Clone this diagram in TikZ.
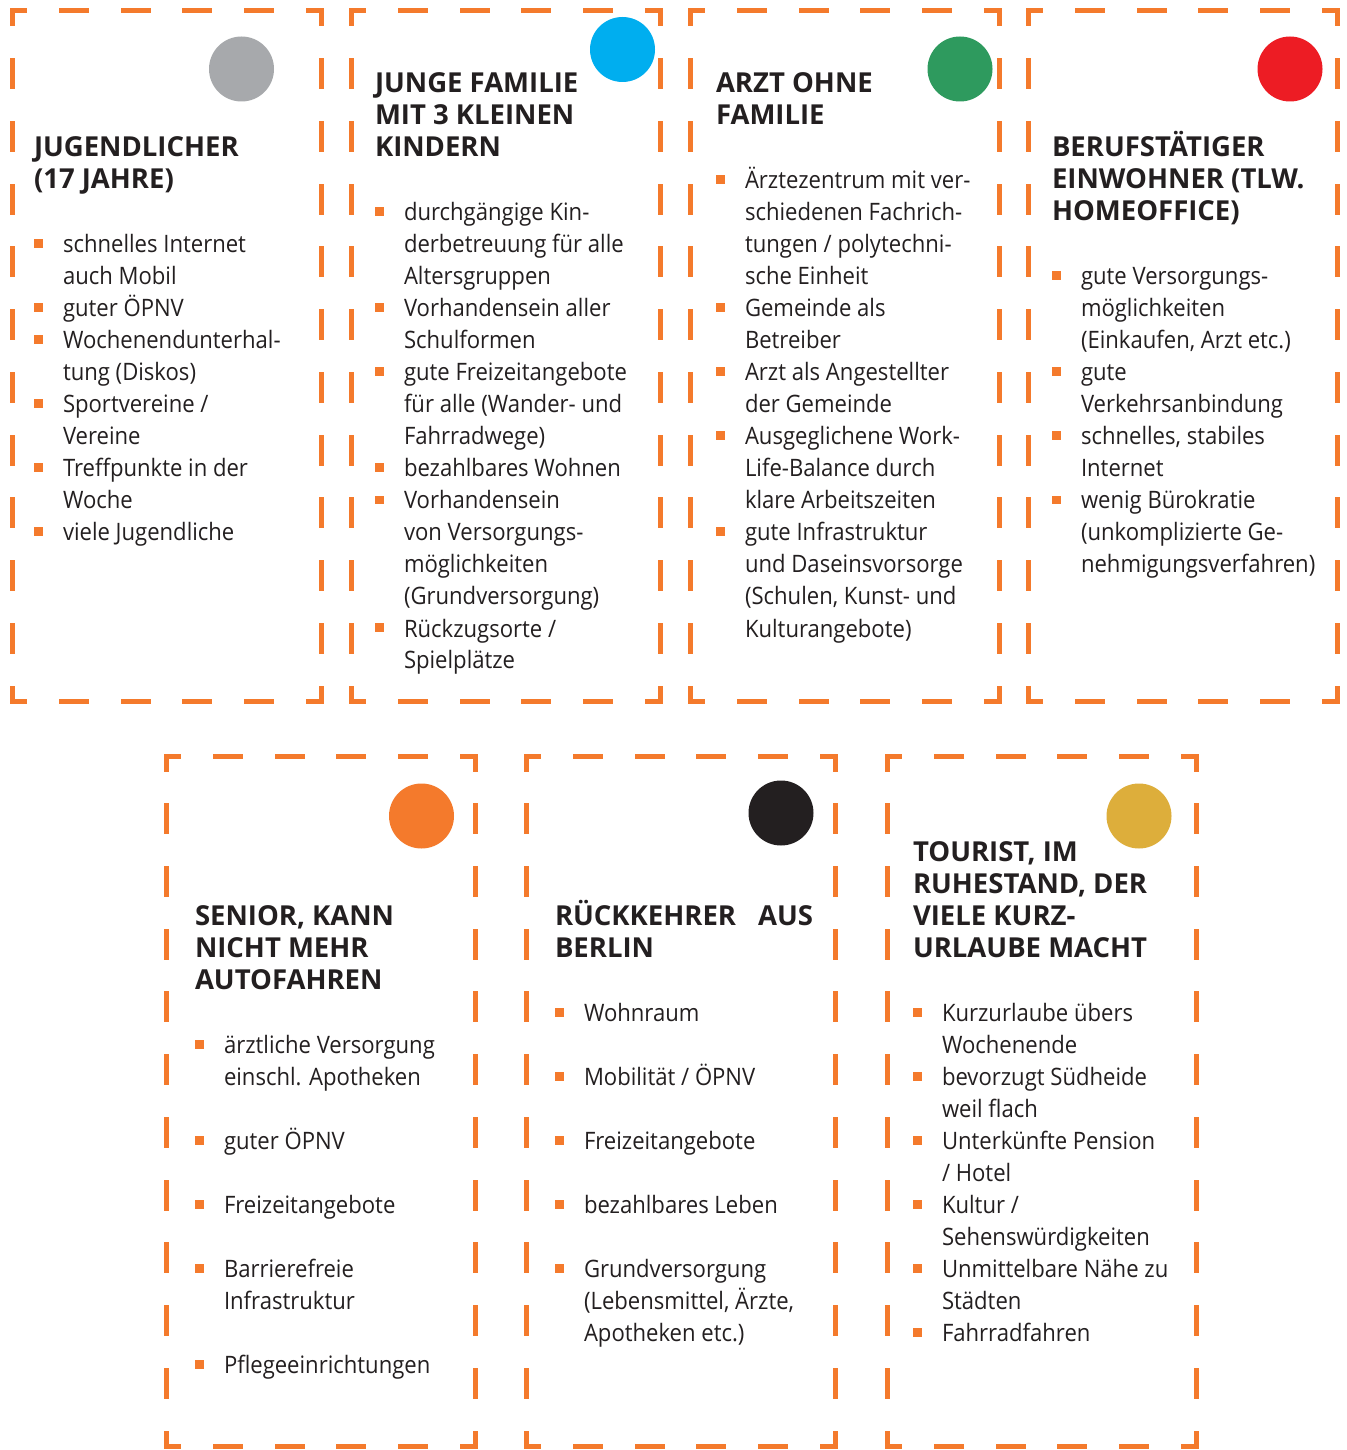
\documentclass[tikz,border=0pt]{standalone}
\usepackage{fontspec}
\setmainfont{Open Sans}[FakeStretch=0.92]
\newfontfamily\ttlfamily{Open Sans}
\definecolor{ink}{HTML}{231F20}
\definecolor{dorange}{HTML}{F47A2C}
\definecolor{cgray}{HTML}{A7A9AC}
\definecolor{cblue}{HTML}{00AEEF}
\definecolor{cgreen}{HTML}{2E9A5E}
\definecolor{cred}{HTML}{ED1C24}
\definecolor{corange}{HTML}{F47A2C}
\definecolor{cblack}{HTML}{231F20}
\definecolor{cgold}{HTML}{DDAE3B}
\newcommand\boxttl[1]{\hbox{\color{ink}\ttlfamily\bfseries\fontsize{27.5}{32}\selectfont #1}}
\newcommand\boxitm[1]{\hbox{\hbox to 29pt{\color{dorange}\raisebox{4.5pt}{\rule{9pt}{9pt}}\hss}\color{ink}#1}}
\newcommand\boxcnt[1]{\hbox{\hskip29pt\color{ink}#1}}
\newcommand\boxgap{\hbox{}}
\newcommand\boxlines[1]{\vtop{\fontsize{24}{32}\selectfont\baselineskip=32pt\lineskiplimit=-100pt\lineskip=0pt #1}}
\tikzset{
  hside/.style={line width=5pt, line cap=rect, draw=dorange, dash pattern=on 25pt off 36.8pt, dash phase=12.5pt},
  vside/.style={line width=5pt, line cap=rect, draw=dorange, dash pattern=on 26pt off 36.727pt, dash phase=13pt},
  txt/.style={anchor=base west, inner sep=0pt, outer sep=0pt},
  dot/.style={circle, inner sep=0pt, minimum size=65pt, fill=#1}
}
\newcommand\dashframe[4]{%
  \draw[hside] (#1,#2) -- (#3,#2);
  \draw[hside] (#1,#4) -- (#3,#4);
  \draw[vside] (#1,#2) -- (#1,#4);
  \draw[vside] (#3,#2) -- (#3,#4);
}
\begin{document}
\begin{tikzpicture}[x=1pt,y=-1pt]
\fill[white] (0,0) rectangle (1346,1450);
\useasboundingbox (0,0) rectangle (1346,1450);
% frames
\dashframe{12}{11}{321}{701}
\dashframe{351}{11}{660}{701}
\dashframe{690}{11}{999}{701}
\dashframe{1028}{11}{1337}{701}
\dashframe{166}{756}{475}{1446}
\dashframe{526}{756}{835}{1446}
\dashframe{887}{756}{1196}{1446}
% dots
\node[dot=cgray] (d1) at (241.5,69) {};
\node[dot=cblue] (d2) at (622.5,49.5) {};
\node[dot=cgreen] (d3) at (960,69) {};
\node[dot=cred] (d4) at (1290,69) {};
\node[dot=corange] (d5) at (421.5,816) {};
\node[dot=cblack] (d6) at (781,813) {};
\node[dot=cgold] (d7) at (1139,816) {};
% texts
\node[txt] (t1) at (34,157) {\boxlines{%
  \boxttl{JUGENDLICHER}
  \boxttl{(17 JAHRE)}
  \boxgap
  \boxitm{schnelles Internet}
  \boxcnt{auch Mobil}
  \boxitm{guter ÖPNV}
  \boxitm{Wochenendunterhal-}
  \boxcnt{tung (Diskos)}
  \boxitm{Sportvereine /}
  \boxcnt{Vereine}
  \boxitm{Treffpunkte in der}
  \boxcnt{Woche}
  \boxitm{viele Jugendliche}}};
\node[txt] (t2) at (375,93) {\boxlines{%
  \boxttl{JUNGE FAMILIE}
  \boxttl{MIT 3 KLEINEN}
  \boxttl{KINDERN}
  \boxgap
  \boxitm{durchgängige Kin-}
  \boxcnt{derbetreuung für alle}
  \boxcnt{Altersgruppen}
  \boxitm{Vorhandensein aller}
  \boxcnt{Schulformen}
  \boxitm{gute Freizeitangebote}
  \boxcnt{für alle (Wander- und}
  \boxcnt{Fahrradwege)}
  \boxitm{bezahlbares Wohnen}
  \boxitm{Vorhandensein}
  \boxcnt{von Versorgungs-}
  \boxcnt{möglichkeiten}
  \boxcnt{(Grundversorgung)}
  \boxitm{Rückzugsorte /}
  \boxcnt{Spielplätze}}};
\node[txt] (t3) at (716,93) {\boxlines{%
  \boxttl{ARZT OHNE}
  \boxttl{FAMILIE}
  \boxgap
  \boxitm{Ärztezentrum mit ver-}
  \boxcnt{schiedenen Fachrich-}
  \boxcnt{tungen / polytechni-}
  \boxcnt{sche Einheit}
  \boxitm{Gemeinde als}
  \boxcnt{Betreiber}
  \boxitm{Arzt als Angestellter}
  \boxcnt{der Gemeinde}
  \boxitm{Ausgeglichene Work-}
  \boxcnt{Life-Balance durch}
  \boxcnt{klare Arbeitszeiten}
  \boxitm{gute Infrastruktur}
  \boxcnt{und Daseinsvorsorge}
  \boxcnt{(Schulen, Kunst- und}
  \boxcnt{Kulturangebote)}}};
\node[txt] (t4) at (1052,157) {\boxlines{%
  \boxttl{BERUFSTÄTIGER}
  \boxttl{EINWOHNER (TLW.}
  \boxttl{HOMEOFFICE)}
  \boxgap
  \boxitm{gute Versorgungs-}
  \boxcnt{möglichkeiten}
  \boxcnt{(Einkaufen, Arzt etc.)}
  \boxitm{gute}
  \boxcnt{Verkehrsanbindung}
  \boxitm{schnelles, stabiles}
  \boxcnt{Internet}
  \boxitm{wenig Bürokratie}
  \boxcnt{(unkomplizierte Ge-}
  \boxcnt{nehmigungsverfahren)}}};
\node[txt] (t5) at (195,925) {\boxlines{%
  \boxttl{SENIOR, KANN}
  \boxttl{NICHT MEHR}
  \boxttl{AUTOFAHREN}
  \boxgap
  \boxitm{ärztliche Versorgung}
  \boxcnt{einschl. Apotheken}
  \boxgap
  \boxitm{guter ÖPNV}
  \boxgap
  \boxitm{Freizeitangebote}
  \boxgap
  \boxitm{Barrierefreie}
  \boxcnt{Infrastruktur}
  \boxgap
  \boxitm{Pflegeeinrichtungen}}};
\node[txt] (t6) at (555,925) {\boxlines{%
  \boxttl{\hbox to 258pt{RÜCKKEHRER\hfill AUS}}
  \boxttl{BERLIN}
  \boxgap
  \boxitm{Wohnraum}
  \boxgap
  \boxitm{Mobilität / ÖPNV}
  \boxgap
  \boxitm{Freizeitangebote}
  \boxgap
  \boxitm{bezahlbares Leben}
  \boxgap
  \boxitm{Grundversorgung}
  \boxcnt{(Lebensmittel, Ärzte,}
  \boxcnt{Apotheken etc.)}}};
\node[txt] (t7) at (913,861) {\boxlines{%
  \boxttl{TOURIST, IM}
  \boxttl{RUHESTAND, DER}
  \boxttl{VIELE KURZ-}
  \boxttl{URLAUBE MACHT}
  \boxgap
  \boxitm{Kurzurlaube übers}
  \boxcnt{Wochenende}
  \boxitm{bevorzugt Südheide}
  \boxcnt{weil flach}
  \boxitm{Unterkünfte Pension}
  \boxcnt{/ Hotel}
  \boxitm{Kultur /}
  \boxcnt{Sehenswürdigkeiten}
  \boxitm{Unmittelbare Nähe zu}
  \boxcnt{Städten}
  \boxitm{Fahrradfahren}}};
\end{tikzpicture}
\end{document}
